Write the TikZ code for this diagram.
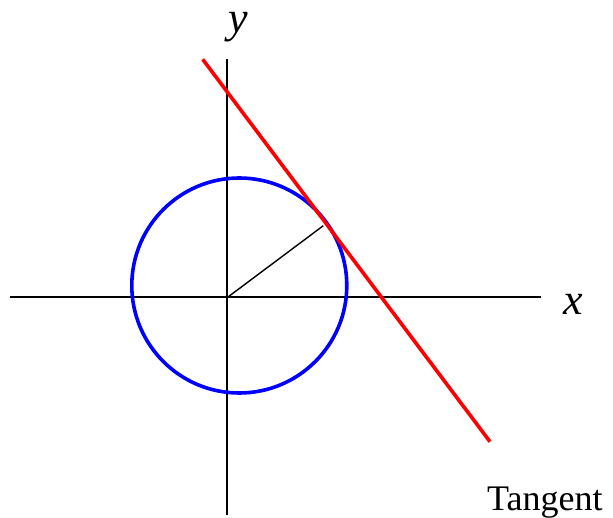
\documentclass[tikz,border=0pt]{standalone}
\usepackage{fontspec}
\setmainfont{Liberation Serif}
\begin{document}
\begin{tikzpicture}[x=1pt,y=-1pt,
  axis/.style={line width=2pt,black},
  circ/.style={line width=3.6pt,blue},
  tang/.style={line width=3.6pt,red},
  rad/.style={line width=1.4pt,black},
  lab/.style={inner sep=0pt,font=\fontsize{44}{48}\selectfont\itshape},
  txt/.style={inner sep=0pt,font=\fontsize{36}{40}\selectfont}]
\useasboundingbox (0,0) rectangle (613,518);
\coordinate (O) at (227.3,297.5);
\coordinate (xl) at (10,297.5);
\coordinate (xr) at (541,297.5);
\coordinate (yt) at (227.3,59);
\coordinate (yb) at (227.3,515);
\coordinate (C) at (239.3,285.5);
\coordinate (T) at (323.3,225.7);
\coordinate (t1) at (202.7,59.3);
\coordinate (t2) at (490,441.7);
\draw[axis] (xl) -- (xr);
\draw[axis] (yt) -- (yb);
\draw[circ] (C) circle[radius=107.5];
\draw[rad] (O) -- (T);
\draw[tang] (t1) -- (t2);
\node[lab,anchor=base] (xlab) at (573.3,315) {x};
\node[lab,anchor=base] (ylab) at (238,32.5) {y};
\node[txt,anchor=base west] (tg) at (487,510.7) {Tangent};
\end{tikzpicture}
\end{document}
